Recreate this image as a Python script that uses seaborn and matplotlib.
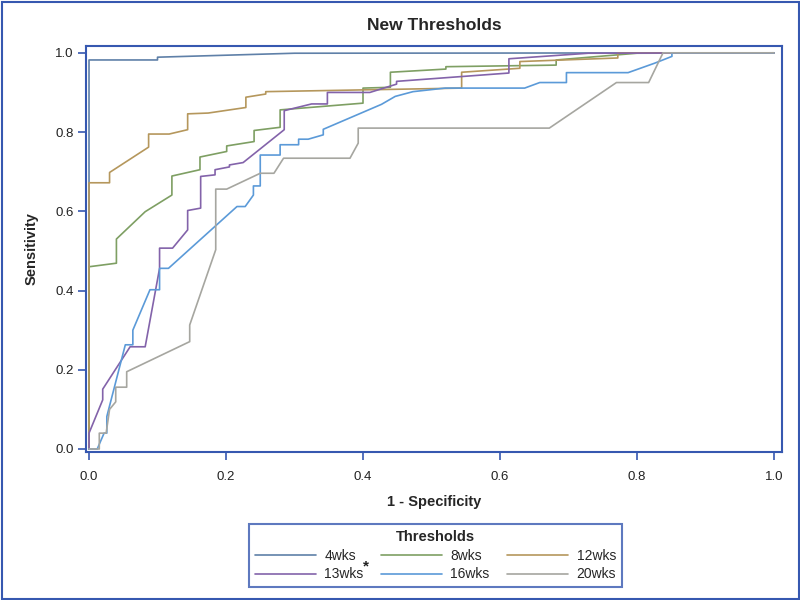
import numpy as np
import pandas as pd
import matplotlib
matplotlib.use("Agg")
import matplotlib.pyplot as plt
import seaborn as sns
from matplotlib.patches import Rectangle
from matplotlib.lines import Line2D

# ---- data (1 - specificity, sensitivity) ----
x_4wks = [0.0, 0.0, 0.10, 0.10, 0.30, 1.0]
y_4wks = [0.0, 0.982, 0.982, 0.989, 0.999, 1.0]

x_8wks = [0.0, 0.0, 0.040, 0.040, 0.082, 0.121, 0.121, 0.162, 0.162, 0.201, 0.201, 0.241, 0.241,
          0.279, 0.279, 0.400, 0.400, 0.440, 0.440, 0.521, 0.521, 0.682, 0.682, 0.800, 1.0]
y_8wks = [0.0, 0.460, 0.469, 0.530, 0.599, 0.641, 0.689, 0.705, 0.737, 0.751, 0.765, 0.776, 0.804,
          0.812, 0.856, 0.873, 0.911, 0.913, 0.951, 0.959, 0.965, 0.969, 0.982, 0.999, 1.0]

x_12wks = [0.0, 0.0, 0.030, 0.030, 0.087, 0.087, 0.117, 0.144, 0.144, 0.174, 0.229, 0.229, 0.258,
           0.258, 0.544, 0.544, 0.629, 0.629, 0.772, 0.772, 1.0]
y_12wks = [0.0, 0.672, 0.672, 0.698, 0.762, 0.795, 0.795, 0.806, 0.846, 0.848, 0.862, 0.888, 0.896,
           0.902, 0.911, 0.951, 0.961, 0.978, 0.987, 1.0, 1.0]

x_13wks = [0.0, 0.0, 0.020, 0.020, 0.060, 0.082, 0.103, 0.103, 0.122, 0.144, 0.144, 0.163, 0.163,
           0.184, 0.184, 0.205, 0.205, 0.225, 0.285, 0.285, 0.325, 0.348, 0.348, 0.410, 0.449,
           0.449, 0.613, 0.613, 0.729, 1.0]
y_13wks = [0.0, 0.040, 0.124, 0.151, 0.258, 0.258, 0.456, 0.507, 0.507, 0.553, 0.602, 0.608, 0.688,
           0.692, 0.705, 0.712, 0.717, 0.723, 0.806, 0.854, 0.871, 0.871, 0.900, 0.900, 0.921,
           0.928, 0.949, 0.985, 0.999, 1.0]

x_16wks = [0.0, 0.012, 0.022, 0.026, 0.026, 0.053, 0.064, 0.064, 0.089, 0.103, 0.103, 0.116, 0.216,
           0.228, 0.240, 0.240, 0.250, 0.250, 0.279, 0.279, 0.306, 0.306, 0.320, 0.342, 0.342,
           0.427, 0.447, 0.473, 0.520, 0.636, 0.658, 0.697, 0.697, 0.787, 0.826, 0.851, 0.851, 1.0]
y_16wks = [0.0, 0.0, 0.040, 0.040, 0.082, 0.263, 0.263, 0.300, 0.402, 0.402, 0.456, 0.456, 0.612,
           0.612, 0.641, 0.664, 0.664, 0.742, 0.742, 0.768, 0.768, 0.782, 0.782, 0.793, 0.807,
           0.870, 0.890, 0.902, 0.911, 0.911, 0.925, 0.925, 0.950, 0.950, 0.974, 0.991, 1.0, 1.0]

x_20wks = [0.0, 0.015, 0.015, 0.025, 0.030, 0.039, 0.039, 0.055, 0.055, 0.147, 0.147, 0.185, 0.185,
           0.201, 0.250, 0.270, 0.284, 0.381, 0.393, 0.393, 0.672, 0.770, 0.817, 0.838, 1.0]
y_20wks = [0.0, 0.0, 0.040, 0.040, 0.100, 0.119, 0.156, 0.156, 0.195, 0.271, 0.313, 0.503, 0.656,
           0.656, 0.696, 0.696, 0.734, 0.734, 0.772, 0.810, 0.810, 0.925, 0.925, 1.0, 1.0]

series = ["4wks", "8wks", "12wks", "13wks", "16wks", "20wks"]
xs = [x_4wks, x_8wks, x_12wks, x_13wks, x_16wks, x_20wks]
ys = [y_4wks, y_8wks, y_12wks, y_13wks, y_16wks, y_20wks]
colors = ["#5F80A8", "#7E9F63", "#B5975C", "#8363AA", "#5B9AD8", "#A6A6A0"]

x_ticks = [0.0, 0.2, 0.4, 0.6, 0.8, 1.0]
y_ticks = [0.0, 0.2, 0.4, 0.6, 0.8, 1.0]

rows = []
for name, xv, yv in zip(series, xs, ys):
    for i, (a, b) in enumerate(zip(xv, yv)):
        rows.append({"Thresholds": name, "order": i, "fpr": a, "tpr": b})
df = pd.DataFrame(rows)

# ---- figure ----
sns.set_theme(style="white")
plt.rcParams["font.family"] = ["Liberation Sans", "DejaVu Sans"]
frame_blue = "#3658B0"

fig = plt.figure(figsize=(8, 6), dpi=100)
ax = fig.add_axes([86 / 800, 1 - 452 / 600, (782 - 86) / 800, (452 - 45.7) / 600])

sns.lineplot(data=df, x="fpr", y="tpr", hue="Thresholds", hue_order=series,
             palette=dict(zip(series, colors)), units="Thresholds", estimator=None,
             sort=False, linewidth=1.2, legend=False, ax=ax)

ax.set_xlim(-0.0044, 1.0117)
ax.set_ylim(-0.0076, 1.018)
ax.set_xticks(x_ticks)
ax.set_yticks(y_ticks)
ax.set_xticklabels([f"{t:.1f}" for t in x_ticks])
ax.set_yticklabels([f"{t:.1f}" for t in y_ticks])
ax.tick_params(axis="both", direction="out", length=6, width=1.2, color=frame_blue,
               labelsize=9.5, labelcolor="#222222", bottom=True, left=True)
ax.tick_params(axis="x", pad=8)
ax.tick_params(axis="y", pad=3)
for s in ax.spines.values():
    s.set_color(frame_blue)
    s.set_linewidth(1.5)

ax.set_xlabel("1 - Specificity", fontsize=10.5, fontweight="bold", labelpad=8)
ax.set_ylabel("Sensitivity", fontsize=10.5, fontweight="bold", labelpad=12)
fig.text(434 / 800, 1 - 25 / 600, "New Thresholds", ha="center", va="center",
         fontsize=12.5, fontweight="bold")

# legend (row-major order like the reference)
order = [0, 3, 1, 4, 2, 5]
handles = [Line2D([0], [0], color=colors[i], lw=1.2) for i in order]
labels = [series[i] for i in order]
leg = fig.legend(handles, labels, ncol=3, loc="center",
                 bbox_to_anchor=(435.5 / 800, 1 - 555.5 / 600),
                 title="Thresholds", title_fontproperties={"weight": "bold", "size": 10.5},
                 fontsize=10, handlelength=4.4, handletextpad=0.6, columnspacing=1.25,
                 frameon=True, fancybox=False, borderpad=0.4, labelspacing=0.35,
                 borderaxespad=0)
leg.get_frame().set_edgecolor(frame_blue)
leg.get_frame().set_linewidth(1.5)
leg.set_zorder(5)
fig.text(366 / 800, 1 - 566 / 600, "*", ha="center", va="center", fontsize=11,
         fontweight="bold", color="#222222", zorder=10)

# outer border
fig.patches.append(Rectangle((1.5 / 800, 1.5 / 600), 797 / 800, 597 / 600,
                             transform=fig.transFigure, fill=False,
                             edgecolor=frame_blue, linewidth=1.5))

fig.savefig("out.png", dpi=100)
